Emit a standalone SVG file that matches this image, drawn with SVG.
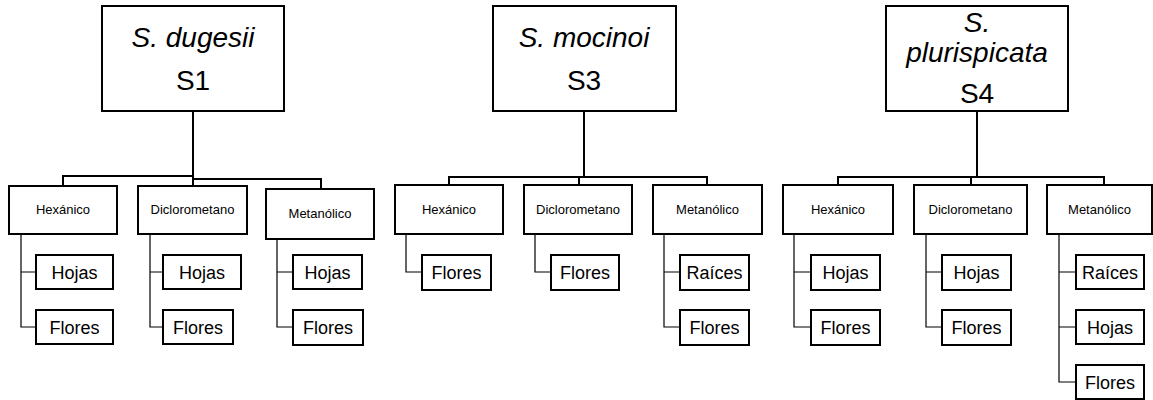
<svg xmlns="http://www.w3.org/2000/svg" width="1153" height="400" viewBox="0 0 1153 400">
<style>
.bx{fill:#fff;stroke:#000;stroke-width:2}
.tk{fill:none;stroke:#000;stroke-width:2}
.th{fill:none;stroke:#000;stroke-width:1.2}
text{font-family:"Liberation Sans",Arial,sans-serif;fill:#000;text-anchor:middle}
.sp{font-size:28px;font-style:italic}
.cd{font-size:28px}
.md{font-size:13px}
.lf{font-size:18px}
</style>
<rect width="1153" height="400" fill="#fff"/>
<g id="connectors">
<path class="tk" d="M193 111V176M63 186V176H193V186M193 179H321V189"/>
<path class="tk" d="M584 111V177M449 185V177H707V185M579 177V185"/>
<path class="tk" d="M977 111V177M838 185V177H1104V185M971 177V185"/>
<path class="th" d="M21 234V327H36M21 272H36"/>
<path class="th" d="M150 234V327H163M150 272H163"/>
<path class="th" d="M277 239V327H293M277 272H293"/>
<path class="th" d="M406 234V272H422"/>
<path class="th" d="M535 234V272H551"/>
<path class="th" d="M664 234V327H680M664 272H680"/>
<path class="th" d="M794 234V327H811M794 272H811"/>
<path class="th" d="M926 234V327H942M926 272H942"/>
<path class="th" d="M1059 234V382H1076M1059 272H1076M1059 327H1076"/>
</g>
<g id="s1"><rect class="bx" x="102" y="6" width="182" height="105"/><text class="sp" x="193" y="47">S. dugesii</text><text class="cd" x="193" y="90">S1</text></g>
<g id="s3"><rect class="bx" x="493" y="6" width="183" height="105"/><text class="sp" x="584" y="47">S. mocinoi</text><text class="cd" x="584" y="90">S3</text></g>
<g id="s4"><rect class="bx" x="886" y="6" width="182" height="105"/><text class="sp" x="977" y="32">S.</text><text class="sp" x="977" y="62">plurispicata</text><text class="cd" x="977" y="103">S4</text></g>

<g id="s1-hex"><rect class="bx" x="9" y="186" width="108" height="48"/><text class="md" x="63" y="214">Hexánico</text></g>
<g id="s1-dic"><rect class="bx" x="138" y="186" width="109" height="48"/><text class="md" x="192.5" y="214">Diclorometano</text></g>
<g id="s1-met"><rect class="bx" x="266" y="189" width="108" height="50"/><text class="md" x="320" y="218">Metanólico</text></g>
<g id="s3-hex"><rect class="bx" x="395" y="185" width="108" height="49"/><text class="md" x="449" y="214">Hexánico</text></g>
<g id="s3-dic"><rect class="bx" x="524" y="185" width="108" height="49"/><text class="md" x="578" y="214">Diclorometano</text></g>
<g id="s3-met"><rect class="bx" x="653" y="185" width="109" height="49"/><text class="md" x="707.5" y="214">Metanólico</text></g>
<g id="s4-hex"><rect class="bx" x="783" y="185" width="110" height="49"/><text class="md" x="838" y="214">Hexánico</text></g>
<g id="s4-dic"><rect class="bx" x="914" y="185" width="113" height="49"/><text class="md" x="970.5" y="214">Diclorometano</text></g>
<g id="s4-met"><rect class="bx" x="1047" y="185" width="105" height="49"/><text class="md" x="1099.5" y="214">Metanólico</text></g>

<g id="s1-hex-hojas"><rect class="bx" x="36" y="255" width="77" height="34"/><text class="lf" x="74.5" y="278.5">Hojas</text></g>
<g id="s1-hex-flores"><rect class="bx" x="36" y="310" width="77" height="34"/><text class="lf" x="74.5" y="333.5">Flores</text></g>
<g id="s1-dic-hojas"><rect class="bx" x="163" y="255" width="78" height="34"/><text class="lf" x="202" y="278.5">Hojas</text></g>
<g id="s1-dic-flores"><rect class="bx" x="163" y="310" width="70" height="34"/><text class="lf" x="198" y="333.5">Flores</text></g>
<g id="s1-met-hojas"><rect class="bx" x="293" y="255" width="69" height="34"/><text class="lf" x="327.5" y="278.5">Hojas</text></g>
<g id="s1-met-flores"><rect class="bx" x="293" y="310" width="70" height="35"/><text class="lf" x="328" y="333.5">Flores</text></g>

<g id="s3-hex-flores"><rect class="bx" x="422" y="255" width="69" height="35"/><text class="lf" x="456.5" y="279">Flores</text></g>
<g id="s3-dic-flores"><rect class="bx" x="551" y="255" width="68" height="35"/><text class="lf" x="585" y="279">Flores</text></g>
<g id="s3-met-raices"><rect class="bx" x="680" y="255" width="69" height="35"/><text class="lf" x="714.5" y="279">Raíces</text></g>
<g id="s3-met-flores"><rect class="bx" x="680" y="310" width="69" height="35"/><text class="lf" x="714.5" y="334">Flores</text></g>

<g id="s4-hex-hojas"><rect class="bx" x="811" y="255" width="69" height="35"/><text class="lf" x="845.5" y="279">Hojas</text></g>
<g id="s4-hex-flores"><rect class="bx" x="811" y="310" width="69" height="35"/><text class="lf" x="845.5" y="334">Flores</text></g>
<g id="s4-dic-hojas"><rect class="bx" x="942" y="255" width="69" height="35"/><text class="lf" x="976.5" y="279">Hojas</text></g>
<g id="s4-dic-flores"><rect class="bx" x="942" y="310" width="69" height="35"/><text class="lf" x="976.5" y="334">Flores</text></g>
<g id="s4-met-raices"><rect class="bx" x="1076" y="255" width="68" height="34"/><text class="lf" x="1110" y="278.5">Raíces</text></g>
<g id="s4-met-hojas"><rect class="bx" x="1076" y="310" width="68" height="34"/><text class="lf" x="1110" y="333.5">Hojas</text></g>
<g id="s4-met-flores"><rect class="bx" x="1076" y="365" width="68" height="34"/><text class="lf" x="1110" y="388.5">Flores</text></g>
</svg>
